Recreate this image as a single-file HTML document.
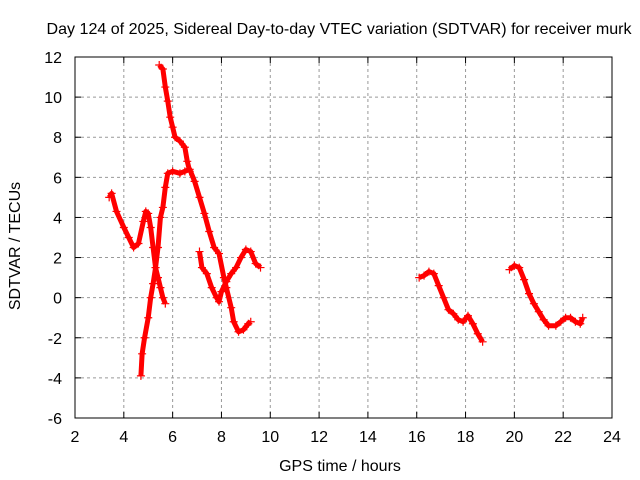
<!DOCTYPE html>
<html><head><meta charset="utf-8"><style>
body{margin:0;background:#fff}
svg{display:block;font-family:"Liberation Sans",sans-serif}
</style></head><body>
<svg id="chart" width="640" height="480" viewBox="0 0 640 480">
<rect width="640" height="480" fill="#fff"/>
<text x="339" y="34" font-size="16" text-anchor="middle" textLength="585" lengthAdjust="spacingAndGlyphs">Day 124 of 2025, Sidereal Day-to-day VTEC variation (SDTVAR) for receiver murk</text>
<text x="340" y="471" font-size="16" text-anchor="middle">GPS time / hours</text>
<text transform="translate(20,246) rotate(-90)" font-size="16" text-anchor="middle">SDTVAR / TECUs</text>
<g id="grid"></g><g id="ticks"></g><g id="series"></g>
<rect x="75" y="57" width="537" height="361" fill="none" stroke="#000" stroke-width="1"/>
</svg>
<script>
const xTicks=[2,4,6,8,10,12,14,16,18,20,22,24];
const yTicks=[-6,-4,-2,0,2,4,6,8,10,12];
const segA=[[3.4,5],[3.5,5.2],[3.7,4.3],[4.0,3.5],[4.2,3.0],[4.4,2.5],[4.6,2.7],[4.8,3.8],[4.9,4.3],[5.0,4.2],[5.1,3.5],[5.2,2.5],[5.3,1.5],[5.4,1.0],[5.5,0.5],[5.6,0],[5.7,-0.3]];
const segB=[[4.7,-3.9],[4.75,-2.8],[4.85,-2],[5.0,-1],[5.1,0],[5.2,0.7],[5.3,1.5],[5.4,2.5],[5.5,4],[5.6,4.5],[5.7,5.5],[5.8,6.2],[6.0,6.3],[6.3,6.2],[6.5,6.3],[6.7,6.4],[6.9,5.8],[7.1,5],[7.3,4.2],[7.5,3.3],[7.7,2.5],[7.9,2.2],[8.1,1.0],[8.2,0.5],[8.4,-0.5],[8.5,-1.2],[8.7,-1.7],[8.9,-1.6],[9.1,-1.3],[9.2,-1.2]];
const segC=[[5.45,11.6],[5.6,11.4],[5.7,10.5],[5.8,9.8],[5.9,9.0],[6.0,8.5],[6.1,8.0],[6.3,7.8],[6.5,7.5],[6.6,6.8],[6.7,6.3]];
const segD=[[7.1,2.3],[7.2,1.5],[7.4,1.2],[7.6,0.5],[7.8,0],[7.9,-0.2],[8.0,0.3],[8.2,0.8],[8.4,1.2],[8.6,1.5],[8.8,2.0],[9.0,2.4],[9.2,2.3],[9.4,1.7],[9.6,1.5]];
const segE=[[16.1,1.0],[16.3,1.1],[16.5,1.3],[16.7,1.2],[16.9,0.6],[17.1,0],[17.3,-0.6],[17.5,-0.8],[17.7,-1.1],[17.9,-1.2],[18.1,-0.9],[18.3,-1.3],[18.5,-1.8],[18.7,-2.2]];
const segF=[[19.8,1.4],[20.0,1.6],[20.2,1.5],[20.4,0.9],[20.6,0.2],[20.8,-0.3],[21.0,-0.7],[21.2,-1.1],[21.4,-1.4],[21.7,-1.4],[21.9,-1.2],[22.1,-1.0],[22.3,-1.0],[22.5,-1.2],[22.7,-1.3],[22.8,-1.0]];
const NS="http://www.w3.org/2000/svg";
const X=t=>75+(t-2)*537/22, Y=v=>418-(v+6)*361/18;
function mk(tag,attrs,parent){const e=document.createElementNS(NS,tag);for(const k in attrs)e.setAttribute(k,attrs[k]);parent.appendChild(e);return e;}
const grid=document.getElementById('grid'),ticks=document.getElementById('ticks'),ser=document.getElementById('series');
xTicks.forEach(t=>{const x=X(t);
 if(t>2&&t<24){const g=mk('line',{x1:x,x2:x,y1:57,y2:418,stroke:'#999','stroke-dasharray':'3,3'},grid);
 
 }
 mk('line',{x1:x,x2:x,y1:418,y2:412,stroke:'#000'},ticks);mk('line',{x1:x,x2:x,y1:57,y2:63,stroke:'#000'},ticks);
 const l=mk('text',{x:x,y:442,'font-size':16,'text-anchor':'middle'},ticks);l.textContent=t;
 
 });
yTicks.forEach(v=>{const y=Y(v);
 if(v>-6&&v<12){const g=mk('line',{x1:75,x2:612,y1:y,y2:y,stroke:'#999','stroke-dasharray':'3,3'},grid);
 
 }
 mk('line',{x1:75,x2:81,y1:y,y2:y,stroke:'#000'},ticks);mk('line',{x1:612,x2:606,y1:y,y2:y,stroke:'#000'},ticks);
 const l=mk('text',{x:62,y:y+6,'font-size':16,'text-anchor':'end'},ticks);l.textContent=v;
 
 });
[segA,segB,segC,segD,segE,segF].forEach((s,i)=>{
 const g=mk('g',{},ser);
 
 
 mk('polyline',{points:s.map(p=>X(p[0])+','+Y(p[1])).join(' '),fill:'none',stroke:'#f00','stroke-width':5,'stroke-linejoin':'round'},g);
 s.forEach(p=>{const x=X(p[0]),y=Y(p[1]);
  mk('path',{d:`M${x-4},${y}H${x+4}M${x},${y-4}V${y+4}`,stroke:'#f00','stroke-width':1.2},g);});
});
</script>
</body></html>
